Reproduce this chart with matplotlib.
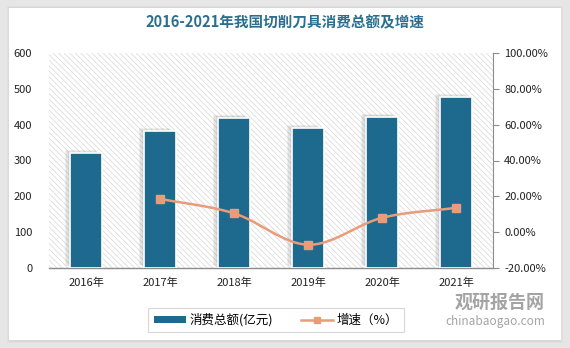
import numpy as np
import matplotlib
matplotlib.use("Agg")
import matplotlib.pyplot as plt
from matplotlib.patches import Rectangle
from matplotlib.lines import Line2D
import matplotlib.patheffects as pe

plt.rcParams['font.family'] = ['Noto Sans CJK SC', 'DejaVu Sans']
plt.rcParams['hatch.linewidth'] = 0.5
plt.rcParams['hatch.color'] = '#d6d6d6'

years = ['2016年', '2017年', '2018年', '2019年', '2020年', '2021年']
consumption = [321, 382, 419, 391, 422, 477]          # 亿元
growth = [None, 18.6, 10.5, -7.0, 8.0, 13.6]           # %

bar_color = '#1d6a8e'
line_color = '#e89c7a'
title_color = '#2a6f8f'

fig = plt.figure(figsize=(5.7, 3.48), dpi=100)
fig.patch.set_facecolor('#e6e6e6')

# white card with soft shadow
for i in range(3):
    fig.add_artist(Rectangle((0.012 + i*0.002, 0.015 + i*0.002), 0.975 - i*0.004, 0.968 - i*0.004,
                             transform=fig.transFigure, facecolor='#d0d0d0', alpha=0.3,
                             edgecolor='none', zorder=0))
fig.add_artist(Rectangle((0.016, 0.024), 0.968, 0.952, transform=fig.transFigure,
                         facecolor='white', edgecolor='none', zorder=0))

ax = fig.add_axes([49/570, 1 - 268/348, 444/570, 215/348])
ax.set_facecolor('none')
x = np.arange(len(years))

# hatched plot background
ax.add_patch(Rectangle((0, 0), 1, 1, transform=ax.transAxes, facecolor='white',
                       edgecolor='#d6d6d6', hatch='\\\\\\\\\\\\', linewidth=0, zorder=0))

bars = ax.bar(x, consumption, width=0.42, color=bar_color, edgecolor='white', linewidth=1.2,
              zorder=3)
shadow = [pe.SimplePatchShadow(offset=(-k, k*0.5), shadow_rgbFace='#606060', alpha=0.09)
          for k in (4, 3, 2, 1)]
for b in bars:
    b.set_path_effects(shadow + [pe.Normal()])

ax.set_xlim(-0.5, len(years) - 0.5)
ax.set_ylim(0, 600)
ax.set_yticks(range(0, 601, 100))
ax.set_xticks(x)
ax.set_xticklabels(years)
for s in ['top', 'right', 'left']:
    ax.spines[s].set_visible(False)
ax.spines['bottom'].set_color('#8c8c8c')
ax.spines['bottom'].set_linewidth(1.0)
ax.tick_params(axis='both', length=0, labelsize=8, colors='#222222', pad=7)
ax.tick_params(axis='y', pad=12)

ax2 = ax.twinx()
ax2.set_ylim(-20, 100)
ax2.set_yticks(range(-20, 101, 20))
ax2.set_yticklabels([f'{v:.2f}%' for v in range(-20, 101, 20)])
for s in ['top', 'left', 'bottom']:
    ax2.spines[s].set_visible(False)
ax2.spines['right'].set_color('#8c8c8c')
ax2.tick_params(axis='y', direction='out', length=4, color='#8c8c8c', labelsize=8,
                labelcolor='#222222', pad=4)

# smoothed growth line (Catmull-Rom through the data points)
gx = np.array([i for i, g in enumerate(growth) if g is not None], dtype=float)
gy = np.array([g for g in growth if g is not None], dtype=float)
px = np.concatenate([[2*gx[0]-gx[1]], gx, [2*gx[-1]-gx[-2]]])
py = np.concatenate([[2*gy[0]-gy[1]], gy, [2*gy[-1]-gy[-2]]])
sx, sy = [], []
for i in range(1, len(px) - 2):
    t = np.linspace(0, 1, 30)
    p0, p1, p2, p3 = (np.array([px[j], py[j]]) for j in range(i-1, i+3))
    pts = 0.5*((2*p1)[:, None] + (-p0+p2)[:, None]*t + (2*p0-5*p1+4*p2-p3)[:, None]*t**2
               + (-p0+3*p1-3*p2+p3)[:, None]*t**3)
    sx.extend(pts[0]); sy.extend(pts[1])
ax2.plot(sx, sy, color=line_color, linewidth=1.8, zorder=4)
ax2.plot(gx, gy, linestyle='none', marker='s', markersize=6, color=line_color, zorder=5)

fig.text(0.5, 1 - 22/348, '2016-2021年我国切削刀具消费总额及增速', ha='center', va='center',
         fontsize=10.5, fontweight='bold', color=title_color)

handles = [Rectangle((0, 0), 1, 1, facecolor=bar_color, edgecolor='none'),
           Line2D([], [], color=line_color, linewidth=1.8, marker='s', markersize=5)]
leg = fig.legend(handles, ['消费总额(亿元)', '增速（%）'], loc='center',
                 bbox_to_anchor=(276/570, 1 - 320/348), ncol=2, frameon=True, fontsize=9,
                 handlelength=2.6, handleheight=0.45, handletextpad=0.3, columnspacing=2.2,
                 fancybox=False, borderpad=0.45)
leg.get_frame().set_edgecolor('#cfcfcf')
leg.get_frame().set_linewidth(0.8)

# watermark
fig.text(500/570, 1 - 302/348, '观研报告网', ha='center', va='center', fontsize=13,
         fontweight='bold', color='#9a9a9a', alpha=0.9)
fig.text(495/570, 1 - 322/348, 'chinabaogao.com', ha='center', va='center', fontsize=8.5,
         color='#9a9a9a', alpha=0.9)

fig.savefig('out.png', dpi=100, facecolor=fig.get_facecolor())
